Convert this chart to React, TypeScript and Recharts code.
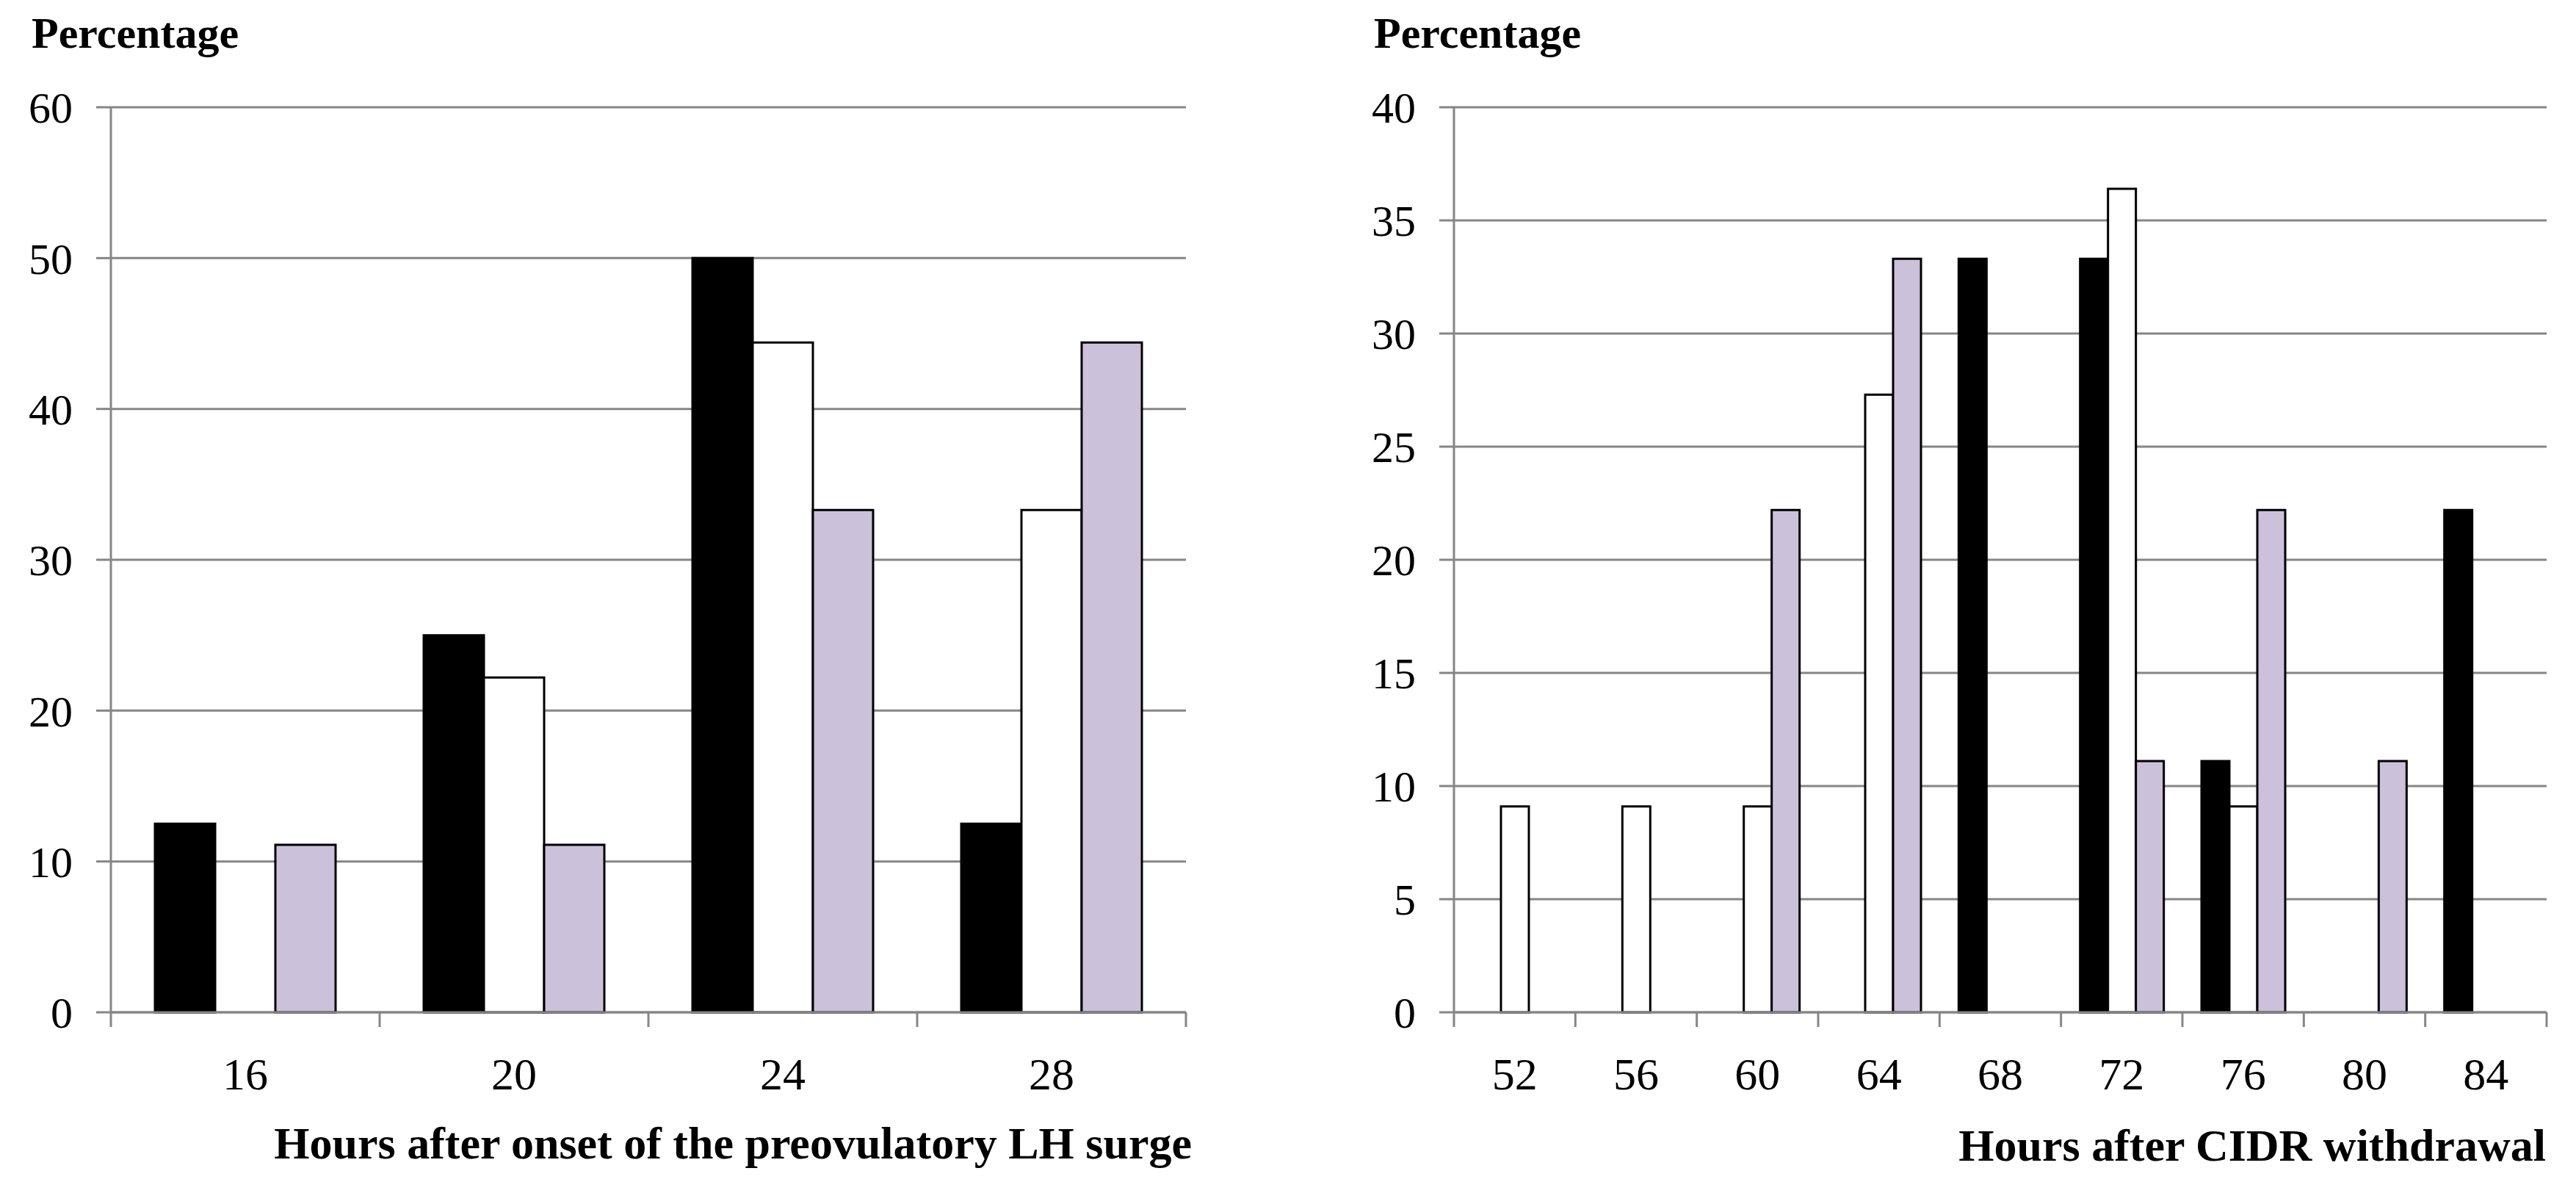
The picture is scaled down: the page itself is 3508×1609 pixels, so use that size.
import React from 'react';
import { BarChart, Bar, XAxis, YAxis, CartesianGrid } from 'recharts';

// ---- Left panel: hours after onset of the preovulatory LH surge ----
const lhCategories = ['16', '20', '24', '28'];
const lhBlack = [12.5, 25, 50, 12.5];
const lhWhite = [0, 22.2, 44.4, 33.3];
const lhPurple = [11.1, 11.1, 33.3, 44.4];
const lhTicks = [0, 10, 20, 30, 40, 50, 60];

// ---- Right panel: hours after CIDR withdrawal ----
const cidrCategories = ['52', '56', '60', '64', '68', '72', '76', '80', '84'];
const cidrBlack = [0, 0, 0, 0, 33.3, 33.3, 11.1, 0, 22.2];
const cidrWhite = [9.1, 9.1, 9.1, 27.3, 0, 36.4, 9.1, 0, 0];
const cidrPurple = [0, 0, 22.2, 33.3, 0, 11.1, 22.2, 11.1, 0];
const cidrTicks = [0, 5, 10, 15, 20, 25, 30, 35, 40];

const lhData = lhCategories.map((c, i) => ({ cat: c, black: lhBlack[i], white: lhWhite[i], purple: lhPurple[i] }));
const cidrData = cidrCategories.map((c, i) => ({ cat: c, black: cidrBlack[i], white: cidrWhite[i], purple: cidrPurple[i] }));

const GRID = '#868686';
const PURPLE = '#CCC1DA';
const FONT = "'Liberation Serif', 'Times New Roman', serif";

const makeTick = (count: number) => (props: any) => {
  const { x, y, payload } = props;
  const index = props.index ?? payload.index;
  const half = payload.offset ?? 0;
  return (
    <g>
      <line x1={x - half} x2={x - half} y1={y} y2={y + 20} stroke={GRID} strokeWidth={3} />
      {index === count - 1 && (
        <line x1={x + half} x2={x + half} y1={y} y2={y + 20} stroke={GRID} strokeWidth={3} />
      )}
      <text x={x} y={y + 105} textAnchor="middle" fontFamily={FONT} fontSize={62} fill="#000">
        {payload.value}
      </text>
    </g>
  );
};

function Panel(props: {
  data: any[];
  ticks: number[];
  max: number;
  yWidth: number;
  right: number;
  gap: number;
  count: number;
}) {
  const { data, ticks, max, yWidth, right, gap, count } = props;
  return (
    <BarChart
      width={1754}
      height={1609}
      data={data}
      margin={{ top: 146, right, bottom: 0, left: 0 }}
      barCategoryGap={gap}
      barGap={0}
    >
      <CartesianGrid vertical={false} stroke={GRID} strokeWidth={3} />
      <XAxis
        dataKey="cat"
        type="category"
        height={231}
        interval={0}
        tickSize={0}
        tickMargin={0}
        tickLine={false}
        axisLine={{ stroke: GRID, strokeWidth: 3 }}
        tick={makeTick(count)}
      />
      <YAxis
        type="number"
        domain={[0, max]}
        ticks={ticks}
        interval={0}
        width={yWidth}
        tickSize={20}
        tickMargin={32}
        axisLine={{ stroke: GRID, strokeWidth: 3 }}
        tickLine={{ stroke: GRID, strokeWidth: 3 }}
        tick={{ fill: '#000', fontSize: 60, fontFamily: FONT }}
      />
      <Bar dataKey="black" fill="#000" stroke="#000" strokeWidth={3} isAnimationActive={false} />
      <Bar dataKey="white" fill="#fff" stroke="#000" strokeWidth={3} isAnimationActive={false} />
      <Bar dataKey="purple" fill={PURPLE} stroke="#000" strokeWidth={3} isAnimationActive={false} />
    </BarChart>
  );
}

export default function App() {
  return (
    <div style={{ position: 'absolute', left: 0, top: 0, width: 3508, height: 1609, background: '#fff' }}>
      <div style={{ position: 'absolute', left: 0, top: 0 }}>
        <Panel data={lhData} ticks={lhTicks} max={60} yWidth={151} right={139} gap={60} count={lhCategories.length} />
      </div>
      <div style={{ position: 'absolute', left: 1754, top: 0 }}>
        <Panel data={cidrData} ticks={cidrTicks} max={40} yWidth={226} right={40} gap={26} count={cidrCategories.length} />
      </div>
      <svg
        width={3508}
        height={1609}
        style={{ position: 'absolute', left: 0, top: 0, pointerEvents: 'none' }}
      >
        <text x={43} y={65} fontFamily={FONT} fontWeight="bold" fontSize={60} fill="#000">Percentage</text>
        <text x={1871} y={65} fontFamily={FONT} fontWeight="bold" fontSize={60} fill="#000">Percentage</text>
        <text x={1623} y={1577} textAnchor="end" fontFamily={FONT} fontWeight="bold" fontSize={62} fill="#000">
          Hours after onset of the preovulatory LH surge
        </text>
        <text x={3467} y={1580} textAnchor="end" fontFamily={FONT} fontWeight="bold" fontSize={62} fill="#000">
          Hours after CIDR withdrawal
        </text>
      </svg>
    </div>
  );
}
